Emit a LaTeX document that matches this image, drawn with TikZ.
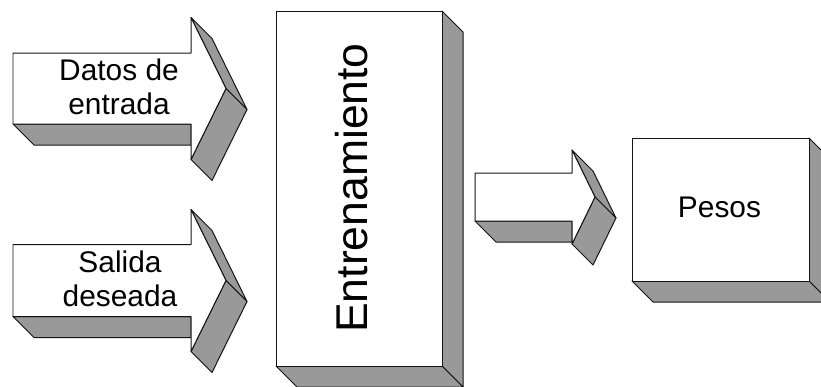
\documentclass[tikz,border=0pt]{standalone}
\usepackage{fontspec}
\setmainfont{Liberation Sans}
\usepackage{xcolor}
\usepackage{tikz}
\definecolor{ladogris}{RGB}{153,153,153}
\definecolor{bordenegro}{RGB}{20,20,20}
\tikzset{
  cara/.style={draw=bordenegro,fill=white,line width=0.85pt,line join=round},
  lado/.style={draw=bordenegro,fill=ladogris,line width=0.85pt,line join=round},
  rotulo/.style={font=\fontsize{25.5}{29.5}\selectfont,align=center,inner sep=0pt},
}
% profundidad del relieve
\newcommand{\prof}{21}
% flecha con relieve: x izq., x base punta, x punta, y centro, semialto cuerpo, semialto punta
\newcommand{\flechaTD}[6]{%
  \draw[lado] (#1,{#4+#5}) -- (#2,{#4+#5}) -- (#2,{#4+#5+\prof}) -- ({#1+\prof},{#4+#5+\prof}) -- cycle;
  \draw[lado] (#2,{#4-#6}) -- ({#2+\prof},{#4-#6+\prof}) -- ({#3+\prof},{#4+\prof}) -- (#3,#4) -- cycle;
  \draw[lado] (#2,{#4+#6}) -- (#3,#4) -- ({#3+\prof},{#4+\prof}) -- ({#2+\prof},{#4+#6+\prof}) -- cycle;
  \draw[cara] (#1,{#4-#5}) -- (#2,{#4-#5}) -- (#2,{#4-#6}) -- (#3,#4) -- (#2,{#4+#6})
    -- (#2,{#4+#5}) -- (#1,{#4+#5}) -- cycle;
}
% caja con relieve: esquina sup. izq. y esquina inf. der.
\newcommand{\cajaTD}[4]{%
  \draw[lado] (#3,#2) -- ({#3+\prof},{#2+\prof}) -- ({#3+\prof},{#4+\prof}) -- (#3,#4) -- cycle;
  \draw[lado] (#1,#4) -- (#3,#4) -- ({#3+\prof},{#4+\prof}) -- ({#1+\prof},{#4+\prof}) -- cycle;
  \draw[cara] (#1,#2) rectangle (#3,#4);
}

\begin{document}
\begin{tikzpicture}[x=0.03cm,y=-0.03cm]
  \clip (0,0) rectangle (821,386);

  % entradas
  \flechaTD{13}{191}{226}{88.5}{35.5}{71}
  \flechaTD{13}{191}{226}{280.5}{36}{71}
  \node[rotulo] (datos)  at (119,87)  {Datos de\\entrada};
  \node[rotulo] (salida) at (120,279) {Salida\\deseada};

  % bloque central
  \cajaTD{276}{11}{442}{366}
  \node[rotulo,font=\fontsize{38}{40}\selectfont,rotate=90] (entren) at (352,188) {Entrenamiento};

  % salida
  \flechaTD{475}{572}{595}{197}{24}{47}
  \cajaTD{632}{138}{809}{281}
  \node[rotulo] (pesos) at (719.5,207) {Pesos};
\end{tikzpicture}
\end{document}
